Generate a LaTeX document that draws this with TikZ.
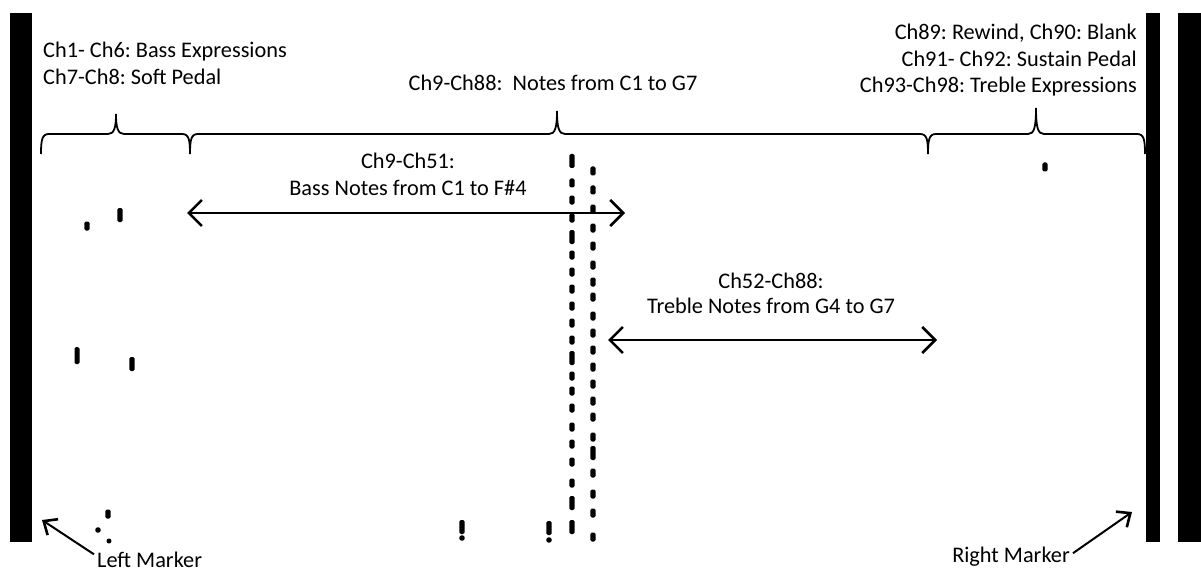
\documentclass[tikz,border=0pt]{standalone}
\usepackage{fontspec}
\setmainfont{Carlito}
\usetikzlibrary{arrows.meta}
\frenchspacing
\begin{document}
\frenchspacing
\begin{tikzpicture}[x=1pt,y=-1pt,
  lbl/.style={inner sep=0pt,font=\fontsize{22.3}{26}\selectfont},
  bracestyle/.style={line width=1.8pt},
  bigarrow/.style={line width=2.5pt,{Straight Barb[length=13pt,width=26pt,line width=2.6pt]}-{Straight Barb[length=13pt,width=26pt,line width=2.6pt]}},
  markarrow/.style={line width=2pt,-{Straight Barb[length=11pt,width=19pt,line width=2.6pt]}}]
\useasboundingbox (0,0) rectangle (1201,572);
\fill[white] (0,0) rectangle (1201,572);
% marker bars
\fill (10,13) rectangle (32,542);
\fill (1146,13) rectangle (1160,542);
\fill (1178,13) rectangle (1201,542);
% braces
\newcommand\curlybr[4]{%
  \draw[bracestyle] (#1,154) .. controls (#1,140) and (#1+1,134) .. (#1+8,134)
    -- (#2-8,134) .. controls (#2-2,134) and (#2,128) .. (#2,#4)
    .. controls (#2,128) and (#2+2,134) .. (#2+8,134)
    -- (#3-8,134) .. controls (#3-1,134) and (#3,140) .. (#3,154);}
\curlybr{41}{116}{190}{114}
\curlybr{190}{557}{928}{111}
\curlybr{928}{1036}{1145}{108}
% texts
\node[lbl,anchor=base west] (t1) at (43,58) {Ch1- Ch6: Bass Expressions};
\node[lbl,anchor=base west] (t2) at (43,85) {Ch7-Ch8: Soft Pedal};
\node[lbl,anchor=base] (t3) at (553,91) {Ch9-Ch88:\ \ Notes from C1 to G7};
\node[lbl,anchor=base east] (t4) at (1137,40) {Ch89: Rewind, Ch90: Blank};
\node[lbl,anchor=base east] (t5) at (1137,67) {Ch91- Ch92: Sustain Pedal};
\node[lbl,anchor=base east] (t6) at (1137,93) {Ch93-Ch98: Treble Expressions};
\node[lbl,anchor=base] (t7) at (408,168) {Ch9-Ch51:};
\node[lbl,anchor=base] (t8) at (408,195) {Bass Notes from C1 to F\#4};
\node[lbl,anchor=base] (t9) at (771,288) {Ch52-Ch88:};
\node[lbl,anchor=base] (t10) at (771,313) {Treble Notes from G4 to G7};
\node[lbl,anchor=base west] (lm) at (97,567) {Left Marker};
\node[lbl,anchor=base east] (rm) at (1070,562) {Right Marker};
% arrows
\coordinate (ba) at (187,213); \coordinate (bb) at (625,213);
\coordinate (ta) at (608,340); \coordinate (tb) at (937,340);
\draw[bigarrow] (ba) -- (bb);
\draw[bigarrow] (ta) -- (tb);
\coordinate (lmt) at (42,520);
\coordinate (rmt) at (1132,512);
\draw[markarrow] (lm.west) ++(-3,-5) -- (lmt);
\draw[markarrow] (rm.east) ++(3,-3) -- (rmt);
% holes
\newcommand\hole[2]{\fill[rounded corners=1.5pt] (#1-2.7,#2-4.5) rectangle (#1+2.7,#2+4.5);}
\newcommand\tallhole[2]{\fill[rounded corners=1.5pt] (#1-2.7,#2-7) rectangle (#1+2.7,#2+7);}
\foreach \yy in {183,200,218,255,272,289,306,323,340,376,391,408,427,444,462,483}{\hole{572}{\yy}}
\foreach \yy in {161,237,358,503,527}{\tallhole{572}{\yy}}
\foreach \yy in {171,190,209,228,246,265,282,297,316,333,350,367,384,401,417,437,473,494,513,537}{\hole{593}{\yy}}
\tallhole{593}{453}
\hole{87}{226}
\tallhole{120}{215}
\fill[rounded corners=1.5pt] (74.5,347) rectangle (79.5,364);
\tallhole{132}{364}
\hole{108}{514}
\fill (98,530) circle (2.8);
\fill (109,541) circle (2.5);
\tallhole{462}{527}
\fill (462,538) circle (2.8);
\tallhole{549}{528}
\fill (549,540) circle (2.8);
\hole{1045}{167}
\end{tikzpicture}
\end{document}
